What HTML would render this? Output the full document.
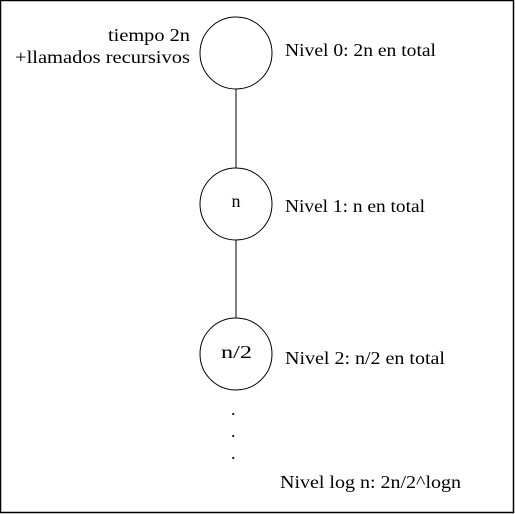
<html><body style="margin:0;background:#fff">
<svg width="515" height="514" xmlns="http://www.w3.org/2000/svg" font-family="Liberation Serif, serif" font-size="18" fill="#000">
<rect x="0.5" y="0.5" width="513" height="512" fill="#fff" stroke="#000" stroke-width="1.5"/>
<g fill="none" stroke="#000" stroke-width="1">
<circle cx="236" cy="53" r="36"/>
<circle cx="236" cy="204" r="36"/>
<circle cx="236" cy="354" r="36"/>
<line x1="236" y1="89" x2="236" y2="168"/>
<line x1="236" y1="240" x2="236" y2="318"/>
</g>
<text x="108" y="41" textLength="82" lengthAdjust="spacingAndGlyphs">tiempo 2n</text>
<text x="15" y="63" textLength="175" lengthAdjust="spacingAndGlyphs">+llamados recursivos</text>
<text x="285" y="56" textLength="151" lengthAdjust="spacingAndGlyphs">Nivel 0: 2n en total</text>
<text x="236" y="207" text-anchor="middle">n</text>
<text x="221" y="358" textLength="31" lengthAdjust="spacingAndGlyphs">n/2</text>
<text x="285" y="212" textLength="140" lengthAdjust="spacingAndGlyphs">Nivel 1: n en total</text>
<text x="285" y="364" textLength="160" lengthAdjust="spacingAndGlyphs">Nivel 2: n/2 en total</text>
<text x="231" y="415">.</text>
<text x="231" y="437">.</text>
<text x="231" y="459">.</text>
<text x="280" y="488" textLength="181" lengthAdjust="spacingAndGlyphs">Nivel log n: 2n/2^logn</text>
</svg>
</body></html>
